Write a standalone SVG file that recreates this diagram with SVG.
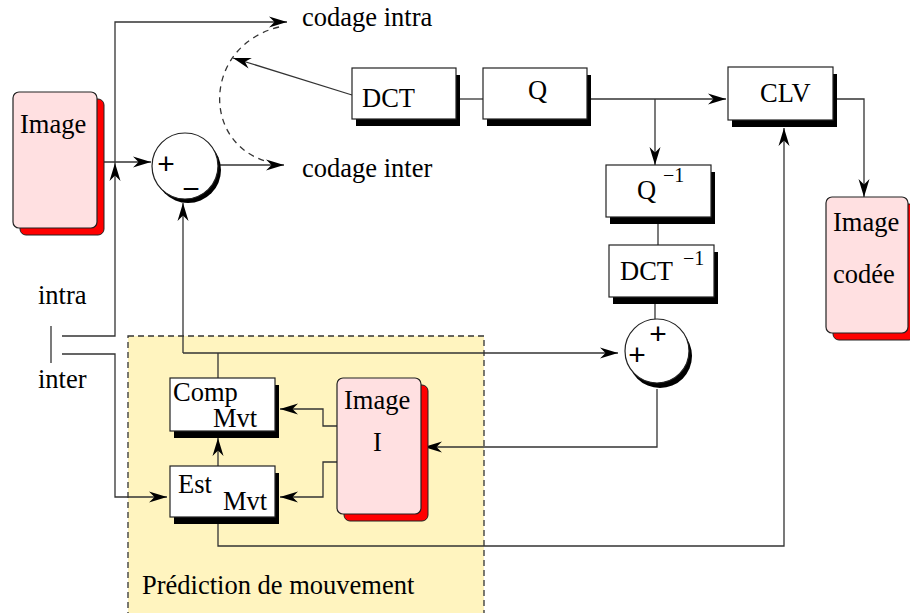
<svg xmlns="http://www.w3.org/2000/svg" width="910" height="613" viewBox="0 0 910 613">
<defs>
<style>
text{font-family:"Liberation Serif","Times New Roman",serif;font-size:26.5px;fill:#000}
.sup{font-size:20px}
.sign{font-family:"Liberation Sans",Arial,sans-serif;font-size:30px;text-anchor:middle}
.box{fill:#fff;stroke:#222;stroke-width:1.2}
.sh{fill:#000}
.img{fill:#ffe0e1;stroke:#222;stroke-width:1.2}
.imgsh{fill:#f00;stroke:#222;stroke-width:1}
.ln{fill:none;stroke:#333;stroke-width:1.3}
.arr{marker-end:url(#ah)}
</style>
<marker id="ah" viewBox="-19 -7 21 14" refX="0" refY="0" markerWidth="21" markerHeight="14" orient="auto" markerUnits="userSpaceOnUse">
<path d="M0,0 L-18,-5.5 L-12.5,0 L-18,5.5 Z" fill="#000"/>
</marker>
</defs>
<rect width="910" height="613" fill="#fff"/>

<g id="prediction-zone">
<rect x="128" y="336" width="356" height="290" fill="#fff4bf" stroke="#333" stroke-width="1.3" stroke-dasharray="6,4"/>
<text x="142" y="594">Prédiction de mouvement</text>
</g>

<g id="connectors">
<path class="ln arr" d="M62,336 H115 V163"/>
<path class="ln arr" d="M115,163 V22 H287"/>
<path class="ln arr" d="M62,354 H115 V497 H167"/>
<path class="ln" d="M51,326 V363"/>
<path class="ln arr" d="M97,162 H151"/>
<path class="ln arr" d="M218,165 H284"/>
<path class="ln arr" d="M352,95 L233,58"/>
<path class="ln" d="M279,27 C205,45 200,140 265,161" stroke-dasharray="6,5"/>
<path class="ln" d="M456,99 H483"/>
<path class="ln arr" d="M587,99 H726"/>
<path class="ln arr" d="M655,99 V165"/>
<path class="ln" d="M658,217 V245"/>
<path class="ln" d="M655,297 V319"/>
<path class="ln" d="M218,378 V353"/>
<path class="ln arr" d="M183,353 H618"/>
<path class="ln arr" d="M183,353 V203"/>
<path class="ln arr" d="M218,466 V438"/>
<path class="ln arr" d="M337,426 H323 V409 H280"/>
<path class="ln arr" d="M337,462 H323 V497 H280"/>
<path class="ln arr" d="M657,389 V447 H424"/>
<path class="ln arr" d="M218,524 V546 H784 V128"/>
<path class="ln arr" d="M837,99 H864 V197"/>
</g>

<g id="image-in">
<rect class="imgsh" x="20" y="99" width="84" height="136" rx="6"/>
<rect class="img" x="13" y="92" width="84" height="136" rx="6"/>
<text x="20" y="133">Image</text>
</g>

<g id="sum-top">
<circle cx="188" cy="170" r="33" fill="#000"/>
<circle cx="185" cy="166" r="33" fill="#fff" stroke="#222" stroke-width="1.2"/>
<text class="sign" x="166" y="173.5">+</text>
<text class="sign" x="191" y="198.5">−</text>
</g>

<g id="dct">
<rect class="sh" x="356" y="75" width="104" height="51"/>
<rect class="box" x="352" y="68" width="104" height="51"/>
<text x="362" y="107">DCT</text>
</g>

<g id="q">
<rect class="sh" x="487" y="75" width="104" height="51"/>
<rect class="box" x="483" y="68" width="104" height="51"/>
<text x="528" y="99">Q</text>
</g>

<g id="clv">
<rect class="sh" x="732" y="74" width="105" height="53"/>
<rect class="box" x="728" y="67" width="105" height="53"/>
<text x="760" y="102">CLV</text>
</g>

<g id="q-inv">
<rect class="sh" x="610" y="172" width="105" height="52"/>
<rect class="box" x="606" y="165" width="105" height="52"/>
<text x="637" y="199">Q</text>
<text class="sup" x="663" y="182">−1</text>
</g>

<g id="dct-inv">
<rect class="sh" x="613" y="252" width="105" height="52"/>
<rect class="box" x="609" y="245" width="105" height="52"/>
<text x="620" y="280">DCT</text>
<text class="sup" x="683" y="265">−1</text>
</g>

<g id="sum-bottom">
<circle cx="660" cy="356" r="32" fill="#000"/>
<circle cx="657" cy="351" r="32" fill="#fff" stroke="#222" stroke-width="1.2"/>
<text class="sign" x="658" y="343.5">+</text>
<text class="sign" x="637" y="364.5">+</text>
</g>

<g id="image-coded">
<rect class="imgsh" x="833" y="204" width="82" height="136" rx="6"/>
<rect class="img" x="826" y="197" width="82" height="136" rx="6"/>
<text x="833" y="231">Image</text>
<text x="833" y="283">codée</text>
</g>

<g id="switch-labels">
<text x="38" y="304">intra</text>
<text x="38" y="388">inter</text>
</g>

<g id="codage-labels">
<text x="302" y="26">codage intra</text>
<text x="302" y="177">codage inter</text>
</g>

<g id="comp-mvt">
<rect class="sh" x="174" y="385" width="105" height="53"/>
<rect class="box" x="170" y="378" width="105" height="53"/>
<text x="173" y="401">Comp</text>
<text x="213" y="427">Mvt</text>
</g>

<g id="est-mvt">
<rect class="sh" x="174" y="473" width="105" height="51"/>
<rect class="box" x="170" y="466" width="105" height="51"/>
<text x="178" y="493">Est</text>
<text x="223" y="510">Mvt</text>
</g>

<g id="image-i">
<rect class="imgsh" x="344" y="385" width="84" height="136" rx="6"/>
<rect class="img" x="337" y="378" width="84" height="136" rx="6"/>
<text x="344" y="409">Image</text>
<text x="373" y="451">I</text>
</g>
</svg>
